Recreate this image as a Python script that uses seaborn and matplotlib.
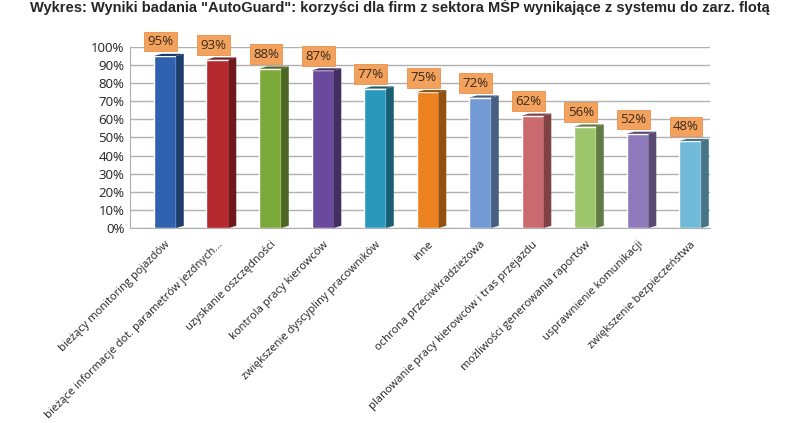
import matplotlib
matplotlib.use("Agg")
import matplotlib.pyplot as plt
import seaborn as sns
import pandas as pd
from matplotlib.patches import Polygon

# ── Data ──────────────────────────────────────────────────────────────────────

categories = [
    "bieżący monitoring pojazdów",
    "bieżące informacje dot. parametrów jezdnych...",
    "uzyskanie oszczędności",
    "kontrola pracy kierowców",
    "zwiększenie dyscypliny pracowników",
    "inne",
    "ochrona przeciwkradzieżowa",
    "planowanie pracy kierowców i tras przejazdu",
    "możliwości generowania raportów",
    "usprawnienie komunikacji",
    "zwiększenie bezpieczeństwa",
]
values = [0.95, 0.93, 0.88, 0.87, 0.77, 0.75, 0.72, 0.62, 0.56, 0.52, 0.48]
value_labels = ["95%", "93%", "88%", "87%", "77%", "75%", "72%", "62%", "56%", "52%", "48%"]
y_ticks = [0.0, 0.1, 0.2, 0.3, 0.4, 0.5, 0.6, 0.7, 0.8, 0.9, 1.0]
y_tick_labels = ["0%", "10%", "20%", "30%", "40%", "50%", "60%", "70%", "80%", "90%", "100%"]

colours = [
    "#2F62AE", "#B5282E", "#7DA83A", "#6A4A9C", "#2A98BB", "#EB821F",
    "#739AD4", "#CB6A6E", "#9DC66C", "#8E7ABA", "#72BBD8",
]

title = ('Wykres: Wyniki badania "AutoGuard": korzyści dla firm z sektora MŚP '
         'wynikające z systemu do zarz. flotą')

# ── Plot ──────────────────────────────────────────────────────────────────────

sns.set_style("white")
plt.rcParams["font.family"] = ["Open Sans", "DejaVu Sans"]

df = pd.DataFrame({"kategoria": categories, "wartosc": values})

fig = plt.figure(figsize=(8, 4.23), dpi=100)
ax = fig.add_axes([0.1625, 0.461, 0.725, 0.428])

sns.barplot(data=df, x="kategoria", y="wartosc", hue="kategoria",
            palette=colours, saturation=1, width=0.42, legend=False, ax=ax, zorder=3)

# darker side faces for a pseudo-3D look
for patch, col in zip(ax.patches, colours):
    x0, w, h = patch.get_x(), patch.get_width(), patch.get_height()
    dx, dy = w * 0.35, 0.012
    dark = tuple(c * 0.62 for c in matplotlib.colors.to_rgb(col))
    side = Polygon([(x0 + w, 0), (x0 + w + dx, dy), (x0 + w + dx, h + dy), (x0 + w, h)],
                   closed=True, facecolor=dark, edgecolor="none", zorder=3)
    top = Polygon([(x0, h), (x0 + dx, h + dy), (x0 + w + dx, h + dy), (x0 + w, h)],
                  closed=True, facecolor=dark, edgecolor="none", zorder=3)
    ax.add_patch(side)
    ax.add_patch(top)

# value labels in orange boxes
for i, (v, lab) in enumerate(zip(values, value_labels)):
    ax.text(i - 0.08, v + 0.08, lab, ha="center", va="center", fontsize=9.5,
            color="#3a2a1a", zorder=5, clip_on=False,
            bbox=dict(boxstyle="square,pad=0.25", facecolor="#F3A25E", edgecolor="#E8904A",
                      linewidth=0.6))

ax.set_xlim(-0.667, 10.38)
ax.set_ylim(0, 1.0)
ax.set_yticks(y_ticks)
ax.set_yticklabels(y_tick_labels, fontsize=9.5, color="#222222")
ax.yaxis.grid(True, color="#b0b0b0", linewidth=1.0, zorder=0)
ax.set_axisbelow(True)

ax.set_xticks(range(len(categories)))
ax.set_xticklabels(categories, rotation=45, ha="right", rotation_mode="anchor",
                   fontsize=8, color="#222222")
ax.tick_params(axis="x", length=0, pad=8)
ax.tick_params(axis="y", length=0, pad=4)

ax.set_xlabel("")
ax.set_ylabel("")
for side_name in ["top", "right"]:
    ax.spines[side_name].set_visible(False)
ax.spines["left"].set_color("#b0b0b0")
ax.spines["bottom"].set_color("#b0b0b0")

fig.text(0.5, 0.984, title, ha="center", va="center", fontsize=10.5,
         fontweight="bold", family=["Liberation Sans", "DejaVu Sans"])

fig.savefig("out.png", dpi=100)
plt.close(fig)
